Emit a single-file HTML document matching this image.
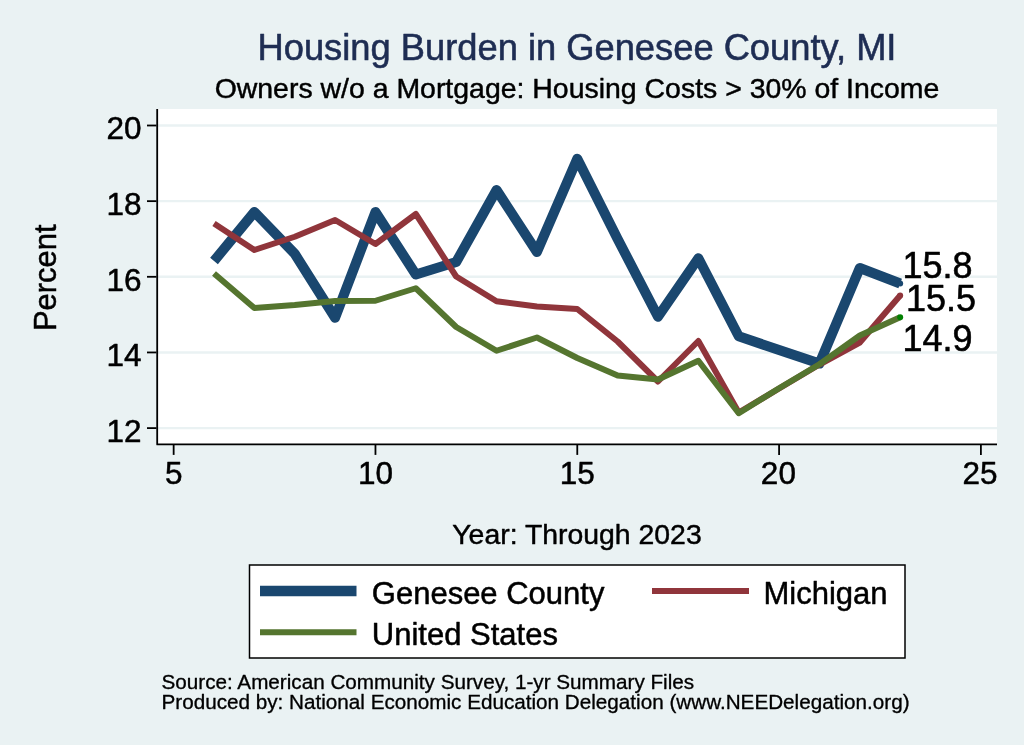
<!DOCTYPE html>
<html><head><meta charset="utf-8"><title>Housing Burden in Genesee County, MI</title>
<style>
html,body{margin:0;padding:0;background:#eaf2f3;}
body{width:1024px;height:745px;overflow:hidden;}
svg{display:block;}
text{font-family:"Liberation Sans",sans-serif;fill:#000;stroke:#000;stroke-width:0.016em;stroke-linejoin:round;}
.t{fill:#1e2d53;stroke:#1e2d53;}
</style></head><body>
<svg width="1024" height="745" viewBox="0 0 1024 745">
<rect x="0" y="0" width="1024" height="745" fill="#eaf2f3"/>
<rect x="157" y="109" width="840" height="336" fill="#ffffff"/>

<line x1="158" x2="997" y1="125.5" y2="125.5" stroke="#eaf2f3" stroke-width="2.4"/>
<line x1="158" x2="997" y1="201.15" y2="201.15" stroke="#eaf2f3" stroke-width="2.4"/>
<line x1="158" x2="997" y1="276.8" y2="276.8" stroke="#eaf2f3" stroke-width="2.4"/>
<line x1="158" x2="997" y1="352.45" y2="352.45" stroke="#eaf2f3" stroke-width="2.4"/>
<line x1="158" x2="997" y1="428.1" y2="428.1" stroke="#eaf2f3" stroke-width="2.4"/>
<polyline points="214.01,261.00 254.38,212.00 294.74,253.75 335.10,317.75 375.46,212.00 415.82,274.50 456.19,262.00 496.55,190.00 536.91,252.00 577.27,158.75 617.64,239.00 658.00,316.75 698.36,258.25 738.72,336.25 779.09,350.00 819.45,363.50 859.81,268.00 900.17,283.50" fill="none" stroke="#1a476f" stroke-width="10" stroke-linejoin="round" stroke-linecap="butt"/>
<polyline points="214.01,223.50 254.38,250.00 294.74,236.75 335.10,220.00 375.46,244.00 415.82,214.00 456.19,276.50 496.55,301.25 536.91,306.50 577.27,309.00 617.64,341.50 658.00,381.50 698.36,341.00 738.72,412.50 779.09,388.50 819.45,364.50 859.81,342.50 900.17,295.50" fill="none" stroke="#90353b" stroke-width="6" stroke-linejoin="round" stroke-linecap="butt"/>
<polyline points="214.01,273.50 254.38,308.00 294.74,305.00 335.10,301.00 375.46,300.75 415.82,288.25 456.19,327.00 496.55,350.75 536.91,337.50 577.27,358.00 617.64,375.50 658.00,379.50 698.36,360.75 738.72,413.25 779.09,388.25 819.45,364.25 859.81,335.50 900.17,317.25" fill="none" stroke="#55752f" stroke-width="6" stroke-linejoin="round" stroke-linecap="butt"/>
<circle cx="900.17" cy="283.5" r="3" fill="#1a476f"/>
<circle cx="900.17" cy="295.5" r="3" fill="#90353b"/>
<circle cx="900.17" cy="317.25" r="3" fill="#008000"/>
<path d="M157.2 109 V444.4 H997" fill="none" stroke="#000" stroke-width="1.8" stroke-linejoin="round"/>
<line x1="147" x2="156.5" y1="125.5" y2="125.5" stroke="#000" stroke-width="1.8"/>
<text x="141.5" y="139.2" font-size="31.5" text-anchor="end">20</text>
<line x1="147" x2="156.5" y1="201.15" y2="201.15" stroke="#000" stroke-width="1.8"/>
<text x="141.5" y="214.85" font-size="31.5" text-anchor="end">18</text>
<line x1="147" x2="156.5" y1="276.8" y2="276.8" stroke="#000" stroke-width="1.8"/>
<text x="141.5" y="290.5" font-size="31.5" text-anchor="end">16</text>
<line x1="147" x2="156.5" y1="352.45" y2="352.45" stroke="#000" stroke-width="1.8"/>
<text x="141.5" y="366.15" font-size="31.5" text-anchor="end">14</text>
<line x1="147" x2="156.5" y1="428.1" y2="428.1" stroke="#000" stroke-width="1.8"/>
<text x="141.5" y="441.8" font-size="31.5" text-anchor="end">12</text>
<line x1="173.65" x2="173.65" y1="445" y2="454.9" stroke="#000" stroke-width="1.8"/>
<text x="173.65" y="484" font-size="31.5" text-anchor="middle">5</text>
<line x1="375.4625" x2="375.4625" y1="445" y2="454.9" stroke="#000" stroke-width="1.8"/>
<text x="375.46" y="484" font-size="31.5" text-anchor="middle">10</text>
<line x1="577.275" x2="577.275" y1="445" y2="454.9" stroke="#000" stroke-width="1.8"/>
<text x="577.27" y="484" font-size="31.5" text-anchor="middle">15</text>
<line x1="779.0875" x2="779.0875" y1="445" y2="454.9" stroke="#000" stroke-width="1.8"/>
<text x="778.39" y="484" font-size="31.5" text-anchor="middle">20</text>
<line x1="980.9" x2="980.9" y1="445" y2="454.9" stroke="#000" stroke-width="1.8"/>
<text x="979.90" y="484" font-size="31.5" text-anchor="middle">25</text>
<text x="902.5" y="277.5" font-size="36">15.8</text>
<text x="906" y="310.6" font-size="36">15.5</text>
<text x="902.5" y="350.7" font-size="36">14.9</text>
<text x="577" y="59.7" font-size="36.3" text-anchor="middle" class="t">Housing Burden in Genesee County, MI</text>
<text x="577" y="98.4" font-size="28.45" text-anchor="middle">Owners w/o a Mortgage: Housing Costs &gt; 30% of Income</text>
<text transform="translate(55.7,277.7) rotate(-90)" font-size="31" text-anchor="middle">Percent</text>
<text x="577" y="543.75" font-size="28.4" text-anchor="middle">Year: Through 2023</text>
<rect x="249.5" y="565" width="655.5" height="93" fill="#fff" stroke="#000" stroke-width="1.5"/>
<line x1="260" x2="356.5" y1="591" y2="591" stroke="#1a476f" stroke-width="10.4"/>
<line x1="260" x2="356.5" y1="632.3" y2="632.3" stroke="#55752f" stroke-width="6"/>
<line x1="652" x2="749" y1="591" y2="591" stroke="#90353b" stroke-width="6"/>
<text x="371.8" y="604" font-size="31">Genesee County</text>
<text x="371.8" y="645" font-size="31">United States</text>
<text x="763.5" y="604" font-size="31">Michigan</text>
<text x="161.5" y="688.9" font-size="20.68">Source: American Community Survey, 1-yr Summary Files</text>
<text x="161.5" y="708.75" font-size="20.68">Produced by: National Economic Education Delegation (www.NEEDelegation.org)</text>
</svg></body></html>
